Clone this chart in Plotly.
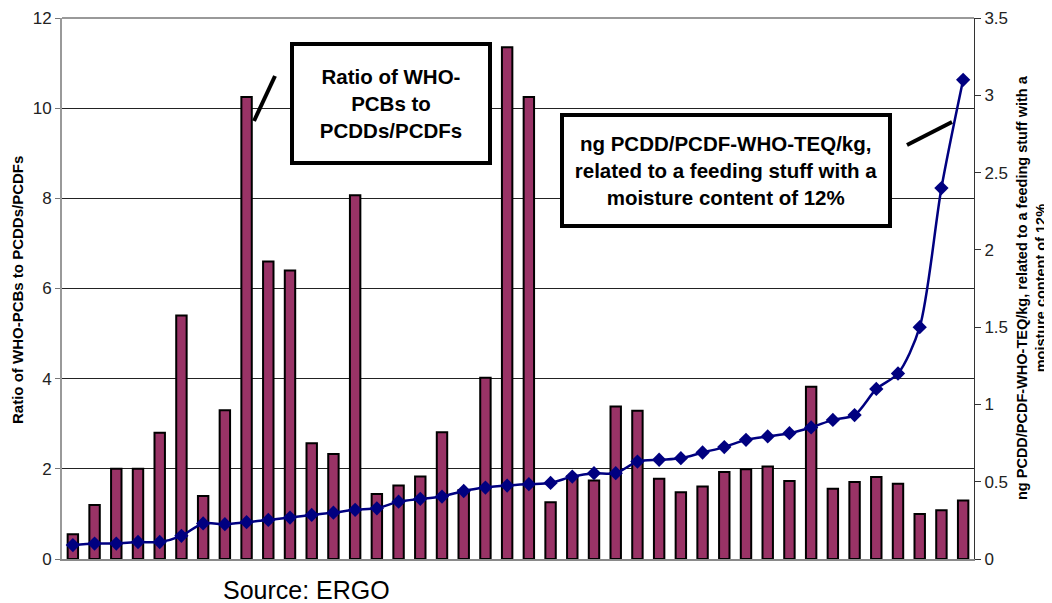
import plotly.graph_objects as go

# ---- data ----
categories = list(range(1, 43))
ratio_who_pcb = [0.55, 1.2, 2.0, 2.0, 2.8, 5.4, 1.4, 3.3, 10.25, 6.6, 6.4, 2.57, 2.33, 8.07,
                 1.44, 1.63, 1.83, 2.81, 1.53, 4.02, 11.35, 10.25, 1.26, 1.83, 1.74, 3.38,
                 3.29, 1.78, 1.48, 1.61, 1.93, 1.99, 2.05, 1.73, 3.82, 1.56, 1.71, 1.82,
                 1.67, 1.0, 1.08, 1.30]
teq_values = [0.09, 0.10, 0.10, 0.11, 0.11, 0.15, 0.23, 0.225, 0.238, 0.253, 0.268, 0.285,
              0.30, 0.318, 0.328, 0.371, 0.389, 0.404, 0.44, 0.462, 0.475, 0.484, 0.492,
              0.533, 0.555, 0.555, 0.63, 0.642, 0.652, 0.689, 0.724, 0.771, 0.793, 0.814,
              0.851, 0.90, 0.931, 1.10, 1.20, 1.50, 2.40, 3.10]
left_ticks = [0, 2, 4, 6, 8, 10, 12]
right_ticks = [0, 0.5, 1, 1.5, 2, 2.5, 3, 3.5]

left_title = "Ratio of WHO-PCBs to PCDDs/PCDFs"
right_title = "ng PCDD/PCDF-WHO-TEQ/kg, related to a feeding stuff with a<br>moisture content of 12%"
box1_text = "Ratio of WHO-<br>PCBs to<br>PCDDs/PCDFs"
box2_text = "ng PCDD/PCDF-WHO-TEQ/kg,<br>related to a feeding stuff with a<br>moisture content of 12%"
source_text = "Source: ERGO"

FONT = "Liberation Sans, Arial, Helvetica, sans-serif"

fig = go.Figure()
fig.add_trace(go.Bar(
    x=categories, y=ratio_who_pcb, width=0.48,
    marker=dict(color="#993366", line=dict(color="black", width=2)),
    yaxis="y", showlegend=False,
))
fig.add_trace(go.Scatter(
    x=categories, y=teq_values, mode="lines+markers",
    line=dict(color="#000080", width=2.5, shape="spline", smoothing=0.8),
    marker=dict(symbol="diamond", size=11, color="#000080"),
    yaxis="y2", showlegend=False,
))

# the page body adds an 8px offset, so the figure is sized to the visible area
OFF = 8
FW, FH = 1052 - OFF, 603 - OFF
# plot-area geometry in page pixels
L, R, T, B = 62, 974, 18, 559
W, H = R - L, B - T
def px(x):
    return (x - L) / W
def py(y):
    return (B - y) / H

fig.update_layout(
    width=FW, height=FH,
    margin=dict(l=L - OFF, r=FW - (R - OFF), t=T - OFF, b=FH - (B - OFF)),
    paper_bgcolor="white", plot_bgcolor="white",
    font=dict(family=FONT, color="#222"),
    bargap=0.5,
    xaxis=dict(range=[0.5, 42.5], showticklabels=False, ticks="", showgrid=False,
               zeroline=False, showline=True, linecolor="#8a8a8a", linewidth=2),
    yaxis=dict(range=[0, 12], tickvals=left_ticks, ticks="outside", ticklen=5,
               tickcolor="#777", tickfont=dict(size=17, color="#222"),
               showgrid=True, gridcolor="#222", gridwidth=1, zeroline=False,
               showline=True, linecolor="#999", linewidth=2, automargin=False),
    yaxis2=dict(range=[0, 3.5], tickvals=right_ticks, overlaying="y", side="right",
                ticks="outside", ticklen=6, tickcolor="#333",
                tickfont=dict(size=17, color="#222"), showgrid=False, zeroline=False,
                showline=True, linecolor="#333", linewidth=1, automargin=False),
)

# top border of the plot area
fig.add_shape(type="line", xref="paper", yref="paper", x0=0, x1=1, y0=1, y1=1,
              line=dict(color="#999", width=2))

# callout pointer lines
fig.add_shape(type="line", xref="paper", yref="paper",
              x0=px(254), y0=py(121), x1=px(275), y1=py(76),
              line=dict(color="black", width=4))
fig.add_shape(type="line", xref="paper", yref="paper",
              x0=px(907), y0=py(145), x1=px(952), y1=py(122),
              line=dict(color="black", width=4))

# callout boxes
fig.add_annotation(xref="paper", yref="paper", x=px(391), y=py(103.5),
                   xanchor="center", yanchor="middle", showarrow=False,
                   text="<b>" + box1_text + "</b>", align="center",
                   font=dict(size=20.5, color="black", family=FONT),
                   width=194, height=115, bgcolor="white",
                   bordercolor="black", borderwidth=4, borderpad=0)
fig.add_annotation(xref="paper", yref="paper", x=px(726), y=py(170.5),
                   xanchor="center", yanchor="middle", showarrow=False,
                   text="<b>" + box2_text + "</b>", align="center",
                   font=dict(size=20.5, color="black", family=FONT),
                   width=324, height=107, bgcolor="white",
                   bordercolor="black", borderwidth=4, borderpad=0)

# axis titles
fig.add_annotation(xref="paper", yref="paper", x=px(18), y=py(290),
                   xanchor="center", yanchor="middle", showarrow=False, textangle=-90,
                   text="<b>" + left_title + "</b>",
                   font=dict(size=15, color="black", family=FONT))
fig.add_annotation(xref="paper", yref="paper", x=px(1031), y=py(288),
                   xanchor="center", yanchor="middle", showarrow=False, textangle=-90,
                   text="<b>" + right_title + "</b>", align="center",
                   font=dict(size=14.5, color="black", family=FONT))

# source note
fig.add_annotation(xref="paper", yref="paper", x=px(306), y=py(590),
                   xanchor="center", yanchor="middle", showarrow=False,
                   text=source_text, font=dict(size=25, color="black", family=FONT))

fig.write_html("out.html")
